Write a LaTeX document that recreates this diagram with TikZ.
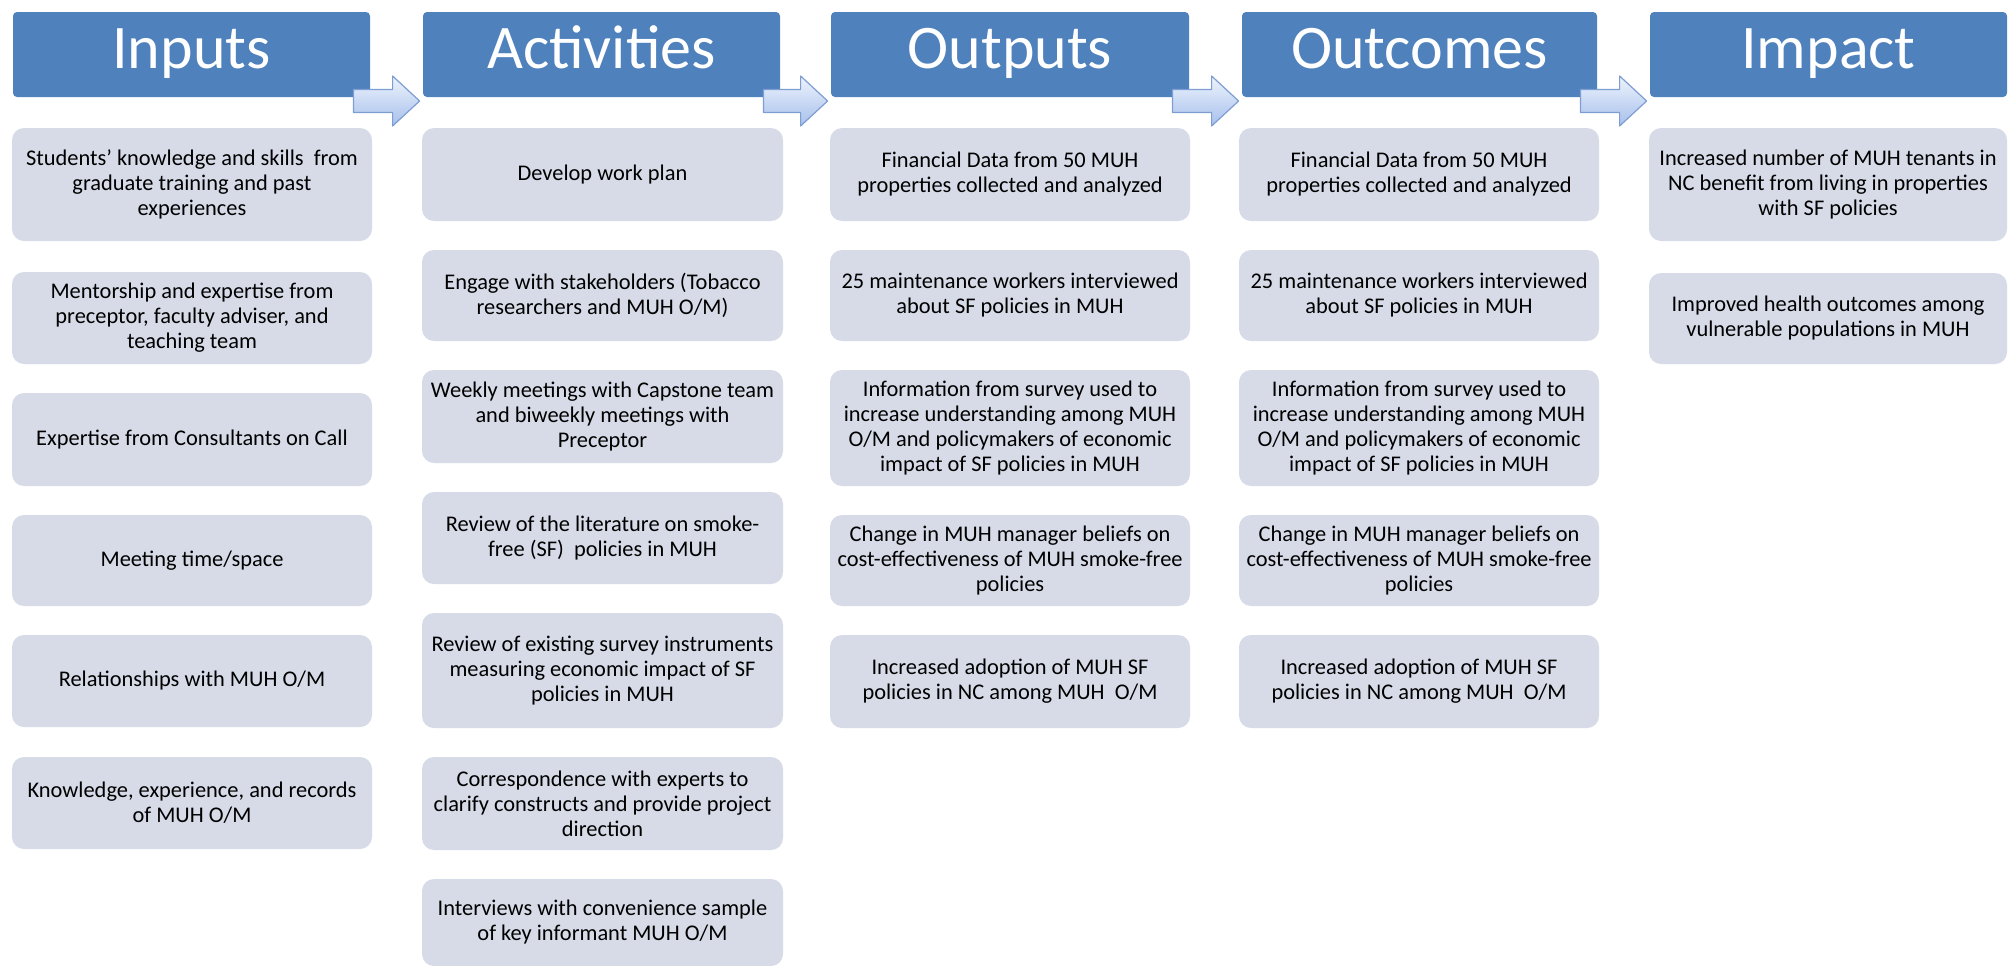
\documentclass[tikz,border=0pt]{standalone}
\usepackage{fontspec}
\setmainfont{Carlito}
\usetikzlibrary{calc}

\definecolor{hdrblue}{HTML}{4F81BD}
\definecolor{cellfill}{HTML}{D6DBE7}
\definecolor{arrowtop}{HTML}{EEF3FC}
\definecolor{arrowbot}{HTML}{A6C0EC}
\definecolor{arrowline}{HTML}{7E9ED3}

% a body box given by its corners (in px) and its text
\newcommand{\cellnode}[6]{%
  \node[cell, minimum width={(#4-#2)*0.5pt}, minimum height={(#5-#3)*0.5pt}]
    (#1) at ({(#2+#4)/2},{(#3+#5)/2}) {#6};}
% a column heading given by its corners (in px)
\newcommand{\hdrnode}[6]{%
  \node[hdr, minimum width={(#4-#2)*0.5pt}, minimum height={(#5-#3)*0.5pt}]
    (#1) at ({(#2+#4)/2},{(#3+#5)/2}) {#6};}

\tikzset{
  hdr/.style={fill=hdrblue, rounded corners=2pt, inner sep=0pt, text=white,
    font=\fontsize{31}{31}\selectfont, text height=20pt, text depth=6.5pt},
  cell/.style={fill=cellfill, rounded corners=6pt, inner sep=0pt, align=center,
    text=black, font=\fontsize{11.2}{12.5}\selectfont},
  flowarrow/.style={top color=arrowtop, bottom color=arrowbot,
    draw=arrowline, line width=0.6pt, line join=round},
}

\begin{document}
\begin{tikzpicture}[x=0.5pt, y=-0.5pt]
\useasboundingbox (0,0) rectangle (2016,965);
\clip (0,0) rectangle (2016,965);
\fill[white] (0,0) rectangle (2016,965);

% column headings
\hdrnode{h1}{13}{12}{370}{97}{Inputs}
\hdrnode{h2}{423}{12}{780}{97}{Activities}
\hdrnode{h3}{831}{12}{1189}{97}{Outputs}
\hdrnode{h4}{1242}{12}{1597}{97}{Outcomes}
\hdrnode{h5}{1650}{12}{2007}{97}{Impact}

% Inputs
\cellnode{in1}{12}{128}{372}{241}{Students’ knowledge and skills\ \ from\\graduate training and past\\experiences}
\cellnode{in2}{12}{272}{372}{364}{Mentorship and expertise from\\preceptor, faculty adviser, and\\teaching team}
\cellnode{in3}{12}{393}{372}{486}{Expertise from Consultants on Call}
\cellnode{in4}{12}{515}{372}{606}{Meeting time/space}
\cellnode{in5}{12}{635}{372}{727}{Relationships with MUH O/M}
\cellnode{in6}{12}{757}{372}{849}{Knowledge, experience, and records\\of MUH O/M}

% Activities
\cellnode{ac1}{422}{128}{783}{221}{Develop work plan}
\cellnode{ac2}{422}{250}{783}{341}{Engage with stakeholders (Tobacco\\researchers and MUH O/M)}
\cellnode{ac3}{422}{370}{783}{463}{Weekly meetings with Capstone team\\and biweekly meetings with\\Preceptor}
\cellnode{ac4}{422}{492}{783}{584}{Review of the literature on smoke-\\free (SF)\ \ policies in MUH}
\cellnode{ac5}{422}{613}{783}{728}{Review of existing survey instruments\\measuring economic impact of SF\\policies in MUH}
\cellnode{ac6}{422}{757}{783}{850}{Correspondence with experts to\\clarify constructs and provide project\\direction}
\cellnode{ac7}{422}{879}{783}{966}{Interviews with convenience sample\\of key informant MUH O/M}

% Outputs
\cellnode{op1}{830}{128}{1190}{221}{Financial Data from 50 MUH\\properties collected and analyzed}
\cellnode{op2}{830}{250}{1190}{341}{25 maintenance workers interviewed\\about SF policies in MUH}
\cellnode{op3}{830}{370}{1190}{486}{Information from survey used to\\increase understanding among MUH\\O/M and policymakers of economic\\impact of SF policies in MUH}
\cellnode{op4}{830}{515}{1190}{606}{Change in MUH manager beliefs on\\cost-effectiveness of MUH smoke-free\\policies}
\cellnode{op5}{830}{635}{1190}{728}{Increased adoption of MUH SF\\policies in NC among MUH\ \ O/M}

% Outcomes
\cellnode{oc1}{1239}{128}{1599}{221}{Financial Data from 50 MUH\\properties collected and analyzed}
\cellnode{oc2}{1239}{250}{1599}{341}{25 maintenance workers interviewed\\about SF policies in MUH}
\cellnode{oc3}{1239}{370}{1599}{486}{Information from survey used to\\increase understanding among MUH\\O/M and policymakers of economic\\impact of SF policies in MUH}
\cellnode{oc4}{1239}{515}{1599}{606}{Change in MUH manager beliefs on\\cost-effectiveness of MUH smoke-free\\policies}
\cellnode{oc5}{1239}{635}{1599}{728}{Increased adoption of MUH SF\\policies in NC among MUH\ \ O/M}

% Impact
\cellnode{im1}{1649}{128}{2007}{241}{Increased number of MUH tenants in\\NC benefit from living in properties\\with SF policies}
\cellnode{im2}{1649}{273}{2007}{364}{Improved health outcomes among\\vulnerable populations in MUH}

% block arrows from one heading to the next
\foreach \a/\b in {h1/h2,h2/h3,h3/h4,h4/h5}{
  \coordinate (s) at ($(\a.east)+(-17,46.5)$);
  \coordinate (t) at ($(\b.west)+(-3,46.5)$);
  \path[flowarrow]
    ([shift={(0,-11.5)}]s) -- ([shift={(-27,-11.5)}]t) -- ([shift={(-27,-25)}]t)
    -- (t) -- ([shift={(-27,25)}]t) -- ([shift={(-27,11.5)}]t)
    -- ([shift={(0,11.5)}]s) -- cycle;
}
\end{tikzpicture}
\end{document}
